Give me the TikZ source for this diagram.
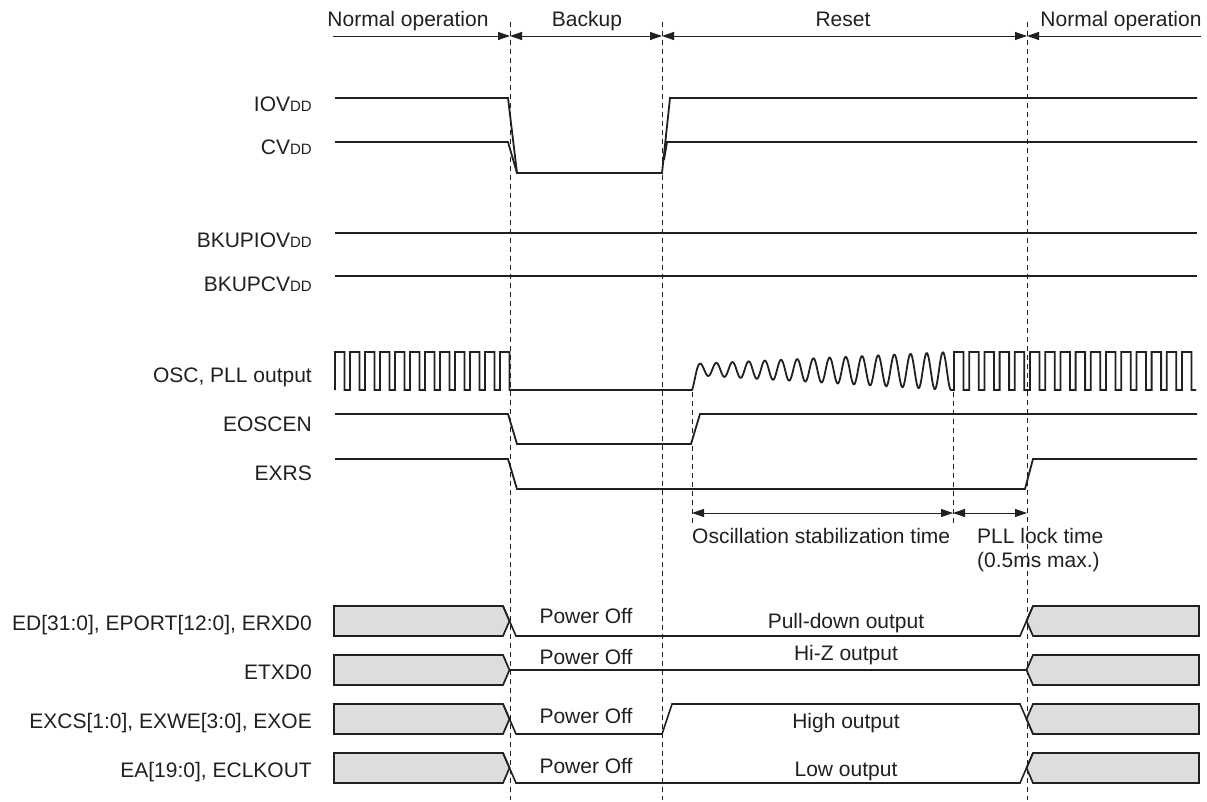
\documentclass[tikz,border=0pt]{standalone}
\usepackage{fontspec}
\setmainfont{Liberation Sans}
\usetikzlibrary{arrows.meta}
\definecolor{ink}{RGB}{35,31,32}
\definecolor{boxgray}{RGB}{220,221,222}
\newcommand\fsz{\fontsize{21}{25}\selectfont}
\newcommand\subDD{{\fontsize{15}{15}\selectfont DD}}
\tikzset{
  sig/.style={line width=1.8pt, draw=ink, line join=miter},
  busline/.style={line width=1.6pt, draw=ink},
  busbox/.style={line width=1.7pt, draw=ink, fill=boxgray, line join=miter},
  hdr/.style={line width=0.9pt, draw=ink},
  vdash/.style={line width=0.9pt, draw=ink, dash pattern=on 5pt off 4pt},
  lbl/.style={font=\fsz, inner sep=0pt, text=ink},
  tipa/.tip={Triangle[length=12pt,width=8pt]}
}
\begin{document}
\begin{tikzpicture}[x=1pt,y=-1pt]
\useasboundingbox (0,0) rectangle (1207,802);
% phase header
\draw[hdr,-tipa] (333,36) -- (510,36);
\draw[hdr,tipa-tipa] (510,36) -- (662,36);
\draw[hdr,tipa-tipa] (662,36) -- (1027,36);
\draw[hdr,tipa-] (1027,36) -- (1201,36);
\node[lbl,anchor=base] (ph1) at (408,27) {Normal operation};
\node[lbl,anchor=base] (ph2) at (587,27) {Backup};
\node[lbl,anchor=base] (ph3) at (843,27) {Reset};
\node[lbl,anchor=base] (ph4) at (1121,27) {Normal operation};
% dashed boundaries
\draw[vdash] (510,22) -- (510,800);
\draw[vdash] (662,22) -- (662,800);
\draw[vdash] (1027,22) -- (1027,800);
\draw[vdash] (692,392) -- (692,525);
\draw[vdash] (953,392) -- (953,525);
% signal labels
\node[lbl,anchor=base east] (l1) at (312,112) {IOV\subDD};
\node[lbl,anchor=base east] (l2) at (312,155) {CV\subDD};
\node[lbl,anchor=base east] (l3) at (312,248) {BKUPIOV\subDD};
\node[lbl,anchor=base east] (l4) at (312,291) {BKUPCV\subDD};
\node[lbl,anchor=base east] (l5) at (312,382) {OSC, PLL output};
\node[lbl,anchor=base east] (l6) at (312,431) {EOSCEN};
\node[lbl,anchor=base east] (l7) at (312,480) {EXRS};
\node[lbl,anchor=base east] (l8) at (312,630) {ED[31:0], EPORT[12:0], ERXD0};
\node[lbl,anchor=base east] (l9) at (312,679) {ETXD0};
\node[lbl,anchor=base east] (l10) at (312,728) {EXCS[1:0], EXWE[3:0], EXOE};
\node[lbl,anchor=base east] (l11) at (312,777) {EA[19:0], ECLKOUT};
% supplies
\draw[sig] (335,98) -- (508,98) -- (517,173) -- (662,173) -- (670,98) -- (1197,98);
\draw[sig] (335,142) -- (508,142) -- (517,173);
\draw[sig] (664,160) -- (667,142) -- (1197,142);
\draw[sig] (335,233) -- (1197,233);
\draw[sig] (335,276) -- (1197,276);
% OSC, PLL output
\draw[sig] (335,390)
  \foreach \i in {0,...,11}{ -- ({335+15*\i},390) -- ({335+15*\i},352) -- ({344.5+15*\i},352) -- ({344.5+15*\i},390) }
  -- (692,390)
  -- plot[domain=0:1,samples=700] ({692+259*\x},
     {0.5*((364-12*\x)+(375+15*\x+15*max(0,1-20*\x)^2)) + 0.5*((375+15*\x+15*max(0,1-20*\x)^2)-(364-12*\x))*cos(360*16*\x)})
  \foreach \i in {0,...,15}{ -- ({954+15.2*\i},390) -- ({954+15.2*\i},352) -- ({963.5+15.2*\i},352) -- ({963.5+15.2*\i},390) }
  -- (1196,390);
% EOSCEN, EXRS
\draw[sig] (335,414) -- (508,414) -- (517,444) -- (691,444) -- (700,414) -- (1197,414);
\draw[sig] (335,459) -- (508,459) -- (517,489) -- (1025,489) -- (1033,459) -- (1197,459);
% time spans
\draw[hdr,tipa-tipa] (692,513) -- (953,513);
\draw[hdr,tipa-tipa] (953,513) -- (1027,513);
\node[lbl,anchor=base west] (t1) at (692,543) {Oscillation stabilization time};
\node[lbl,anchor=base west] (t2) at (977,543) {PLL lock time};
\node[lbl,anchor=base west] (t3) at (977,567) {(0.5ms max.)};
% bus row 1
\filldraw[busbox] (334,606) -- (503,606) -- (509.5,621) -- (503,636) -- (334,636) -- cycle;
\filldraw[busbox] (1199,606) -- (1033,606) -- (1026.5,621) -- (1033,636) -- (1199,636) -- cycle;
\draw[busline] (503,606) -- (516,636) -- (1020,636) -- (1033,606);
% bus row 2
\filldraw[busbox] (334,655) -- (503,655) -- (509.5,670) -- (503,685) -- (334,685) -- cycle;
\filldraw[busbox] (1199,655) -- (1033,655) -- (1026.5,670) -- (1033,685) -- (1199,685) -- cycle;
\draw[busline,line width=1.3pt] (509.5,670) -- (1026.5,670);
% bus row 3
\filldraw[busbox] (334,704) -- (503,704) -- (509.5,719) -- (503,734) -- (334,734) -- cycle;
\filldraw[busbox] (1199,704) -- (1033,704) -- (1026.5,719) -- (1033,734) -- (1199,734) -- cycle;
\draw[busline] (503,704) -- (516,734) -- (662,734) -- (672,704) -- (1020,704) -- (1033,734);
% bus row 4
\filldraw[busbox] (334,753) -- (503,753) -- (509.5,768) -- (503,783) -- (334,783) -- cycle;
\filldraw[busbox] (1199,753) -- (1033,753) -- (1026.5,768) -- (1033,783) -- (1199,783) -- cycle;
\draw[busline] (503,753) -- (516,783) -- (1020,783) -- (1033,753);
% bus labels
\node[lbl,anchor=base] (p1) at (586,623) {Power Off};
\node[lbl,anchor=base] (p2) at (586,664) {Power Off};
\node[lbl,anchor=base] (p3) at (586,723) {Power Off};
\node[lbl,anchor=base] (p4) at (586,773) {Power Off};
\node[lbl,anchor=base] (o1) at (846,628) {Pull-down output};
\node[lbl,anchor=base] (o2) at (846,660) {Hi-Z output};
\node[lbl,anchor=base] (o3) at (846,728) {High output};
\node[lbl,anchor=base] (o4) at (846,776) {Low output};
\end{tikzpicture}
\end{document}
